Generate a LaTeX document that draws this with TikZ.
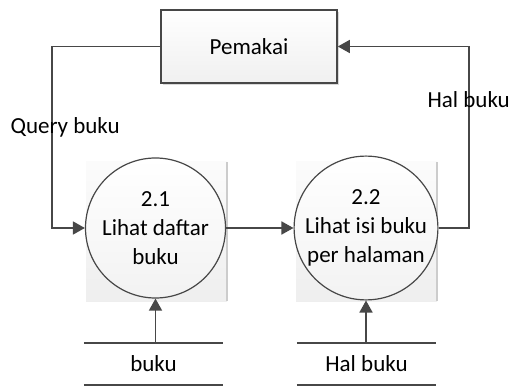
\documentclass[tikz,border=0pt]{standalone}
\usepackage{fontspec}
\setmainfont{Carlito}
\usetikzlibrary{arrows.meta,shadows}
\definecolor{garis}{HTML}{474747}
\begin{document}
\begin{tikzpicture}[x=1pt,y=-1pt,
  font=\fontsize{23}{29}\selectfont,
  flow/.style={draw=garis,line width=1.6pt,-{Triangle[length=12pt,width=13pt]}},
  proses/.style={draw=garis,circle,line width=1.2pt,minimum size=140pt,inner sep=0pt,
    top color=white,bottom color=gray!10,align=center},
  latar/.style={rectangle,minimum width=141pt,minimum height=139pt,inner sep=0pt,
    top color=gray!3,bottom color=gray!13},
  simpan/.style={rectangle,minimum width=139pt,minimum height=42pt,inner sep=0pt}]
\useasboundingbox (0,0) rectangle (511,387);
% latar belakang proses
\node[latar] (l1) at (156.5,231.5) {};
\node[latar] (l2) at (366.5,231.5) {};
\path[draw=gray!40,line width=2pt] (l1.north east) -- (l1.south east);
\path[draw=gray!40,line width=2pt] (l2.north east) -- (l2.south east);
% entitas dan proses
\node[draw=garis,line width=1.6pt,minimum width=176pt,minimum height=73pt,
  top color=white,bottom color=gray!12,
  drop shadow={shadow xshift=2pt,shadow yshift=-2pt,opacity=0.3}] (pemakai) at (249,46.5) {Pemakai};
\node[proses] (p1) at (155.5,228) {2.1\\Lihat daftar\\buku};
\node[proses] (p2) at (366,228) {2.2\\Lihat isi buku\\per halaman};
% data store
\node[simpan] (s1) at (153.5,364) {buku};
\node[simpan] (s2) at (366.5,364) {Hal buku};
\path[draw=garis,line width=1.6pt] (s1.north west) -- (s1.north east);
\path[draw=garis,line width=1.6pt] (s1.south west) -- (s1.south east);
\path[draw=garis,line width=1.6pt] (s2.north west) -- (s2.north east);
\path[draw=garis,line width=1.6pt] (s2.south west) -- (s2.south east);
% aliran data
\coordinate (q) at (52,127);
\coordinate (h) at (469,100);
\path[flow] (pemakai.west) -| (q) |- (p1.west);
\path[flow] (p1) -- (p2);
\path[flow] (p2.east) -| (h) |- (pemakai.east);
\path[flow] (s1.north -| p1.south) -- (p1.south);
\path[flow] (s2.north -| p2.south) -- (p2.south);
\node[anchor=west] (lq) at (7,127) {Query buku};
\node[anchor=west] (lh) at (424,100) {Hal buku};
\end{tikzpicture}
\end{document}
